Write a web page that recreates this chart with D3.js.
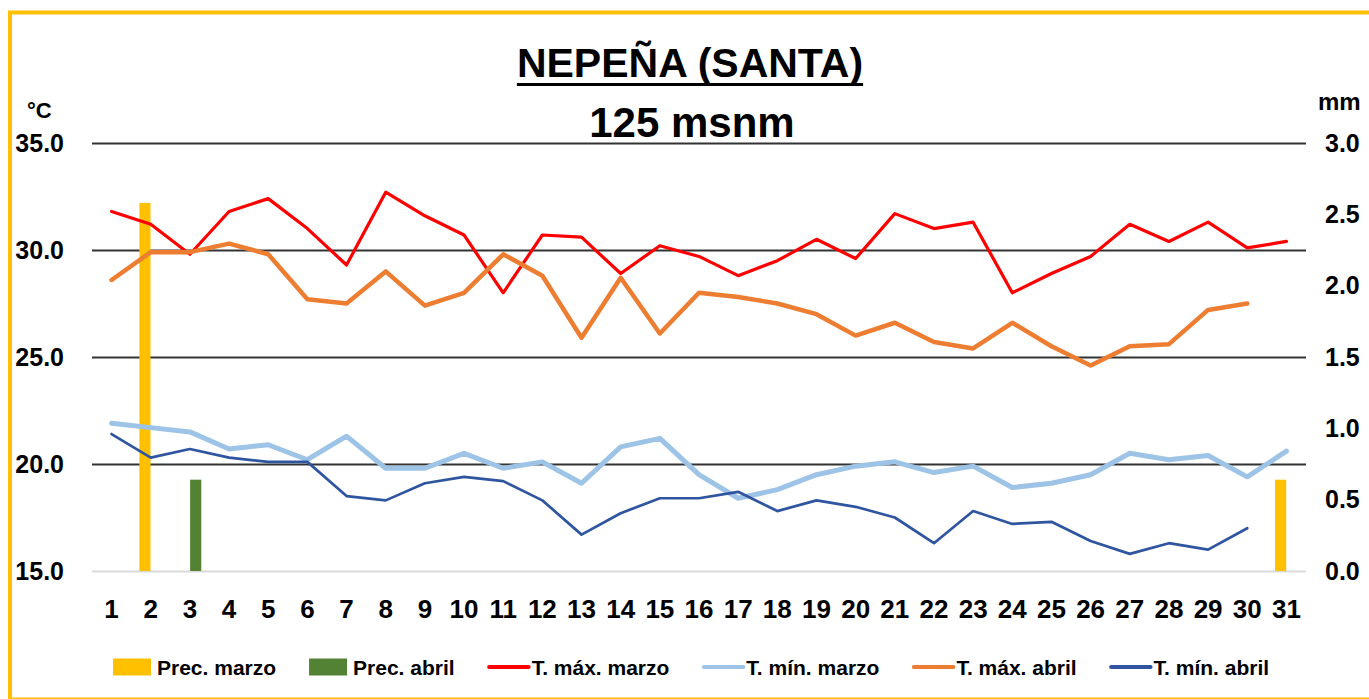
<!DOCTYPE html>
<html>
<head>
<meta charset="utf-8">
<script src="https://cdn.jsdelivr.net/npm/d3@7"></script>
<style>
	body { margin: 0; background: #fff; }
	svg { display: block; }
	text { font-family: "Liberation Sans", Arial, sans-serif; font-weight: bold; fill: #000; }
</style>
</head>
<body>
<svg id="chart" width="1369" height="699"></svg>
<script>

// categories: days of the month
const days = [1, 2, 3, 4, 5, 6, 7, 8, 9, 10, 11, 12, 13, 14, 15, 16, 17, 18, 19, 20,
	21, 22, 23, 24, 25, 26, 27, 28, 29, 30, 31];

// precipitation (mm)
const precMarzo = [0, 2.58, 0, 0, 0, 0, 0, 0, 0, 0, 0, 0, 0, 0, 0, 0, 0, 0, 0, 0,
	0, 0, 0, 0, 0, 0, 0, 0, 0, 0, 0.64];
const precAbril = [0, 0, 0.64, 0, 0, 0, 0, 0, 0, 0, 0, 0, 0, 0, 0, 0, 0, 0, 0, 0,
	0, 0, 0, 0, 0, 0, 0, 0, 0, 0, 0];

// temperatures (°C)
const tMaxMarzo = [31.8, 31.2, 29.8, 31.8, 32.4, 31.0, 29.3, 32.7, 31.6, 30.7,
	28.0, 30.7, 30.6, 28.9, 30.2, 29.7, 28.8, 29.5, 30.5, 29.6,
	31.7, 31.0, 31.3, 28.0, 28.9, 29.7, 31.2, 30.4, 31.3, 30.1, 30.4];
const tMinMarzo = [21.9, 21.7, 21.5, 20.7, 20.9, 20.2, 21.3, 19.8, 19.8, 20.5,
	19.8, 20.1, 19.1, 20.8, 21.2, 19.5, 18.4, 18.8, 19.5, 19.9,
	20.1, 19.6, 19.9, 18.9, 19.1, 19.5, 20.5, 20.2, 20.4, 19.4, 20.6];
const tMaxAbril = [28.6, 29.9, 29.9, 30.3, 29.8, 27.7, 27.5, 29.0, 27.4, 28.0,
	29.8, 28.8, 25.9, 28.7, 26.1, 28.0, 27.8, 27.5, 27.0, 26.0,
	26.6, 25.7, 25.4, 26.6, 25.5, 24.6, 25.5, 25.6, 27.2, 27.5, null];
const tMinAbril = [21.4, 20.3, 20.7, 20.3, 20.1, 20.1, 18.5, 18.3, 19.1, 19.4,
	19.2, 18.3, 16.7, 17.7, 18.4, 18.4, 18.7, 17.8, 18.3, 18.0,
	17.5, 16.3, 17.8, 17.2, 17.3, 16.4, 15.8, 16.3, 16.0, 17.0, null];

const tempTicks = [15, 20, 25, 30, 35];
const precTicks = [0, 0.5, 1, 1.5, 2, 2.5, 3];

const legendItems = [
	{label: "Prec. marzo", color: "#FFC000", type: "bar"},
	{label: "Prec. abril", color: "#548235", type: "bar"},
	{label: "T. máx. marzo", color: "#FF0000", type: "line"},
	{label: "T. mín. marzo", color: "#9DC3E6", type: "line"},
	{label: "T. máx. abril", color: "#ED7D31", type: "line"},
	{label: "T. mín. abril", color: "#2F55A0", type: "line"}
];

//////////////////////////////////////////////////////////////////////

const svg = d3.select("#chart");
const plotLeft = 92, plotRight = 1306, plotTop = 143, plotBottom = 571;

// chart frame
svg.append("rect")
	.attr("x", 10).attr("y", 12.5)
	.attr("width", 1400).attr("height", 687)
	.attr("fill", "#fff")
	.attr("stroke", "#FFC000")
	.attr("stroke-width", 4);

const x = d3.scaleBand()
	.domain(days)
	.range([plotLeft, plotRight])
	.paddingInner(0.42)
	.paddingOuter(0.21);

const x1 = d3.scaleBand()
	.domain(["marzo", "abril"])
	.range([0, x.bandwidth()])
	.paddingInner(0.04);

const yT = d3.scaleLinear().domain([15, 35]).range([plotBottom, plotTop]);
const yP = d3.scaleLinear().domain([0, 3]).range([plotBottom, plotTop]);

// gridlines
const grid = svg.append("g")
	.attr("transform", "translate(" + plotLeft + ",0)")
	.call(d3.axisLeft(yT).tickValues(tempTicks).tickSize(-(plotRight - plotLeft)).tickFormat(""));
grid.select(".domain").remove();
grid.selectAll(".tick line")
	.attr("stroke", function(d) { return d === 15 ? "#D9D9D9" : "#333"; })
	.attr("stroke-width", 2);

// precipitation bars
const barData = [];
days.forEach(function(d, i) {
	barData.push({day: d, key: "marzo", value: precMarzo[i], color: "#FFC000"});
	barData.push({day: d, key: "abril", value: precAbril[i], color: "#548235"});
});

svg.append("g")
	.selectAll("rect")
	.data(barData.filter(function(d) { return d.value > 0; }))
	.join("rect")
	.attr("x", function(d) { return x(d.day) + x1(d.key); })
	.attr("y", function(d) { return yP(d.value); })
	.attr("width", x1.bandwidth())
	.attr("height", function(d) { return yP(0) - yP(d.value); })
	.attr("fill", function(d) { return d.color; });

// temperature lines
const line = d3.line()
	.defined(function(d) { return d != null; })
	.x(function(d, i) { return x(days[i]) + x.bandwidth() / 2; })
	.y(function(d) { return yT(d); });

const series = [
	{values: tMaxMarzo, color: "#FF0000", width: 3.2},
	{values: tMinMarzo, color: "#9DC3E6", width: 5},
	{values: tMaxAbril, color: "#ED7D31", width: 4.5},
	{values: tMinAbril, color: "#2F55A0", width: 2.7}
];

svg.append("g")
	.selectAll("path")
	.data(series)
	.join("path")
	.attr("d", function(d) { return line(d.values); })
	.attr("fill", "none")
	.attr("stroke", function(d) { return d.color; })
	.attr("stroke-width", function(d) { return d.width; })
	.attr("stroke-linejoin", "round")
	.attr("stroke-linecap", "round");

// axes
const xAxis = svg.append("g")
	.attr("transform", "translate(0," + plotBottom + ")")
	.call(d3.axisBottom(x).tickSize(0).tickPadding(28.5));
xAxis.select(".domain").remove();
xAxis.selectAll("text").style("font-size", "26px");

const yAxisL = svg.append("g")
	.attr("transform", "translate(" + plotLeft + ",0)")
	.call(d3.axisLeft(yT).tickValues(tempTicks).tickSize(0).tickPadding(28).tickFormat(d3.format(".1f")));
yAxisL.select(".domain").remove();
yAxisL.selectAll("text").style("font-size", "25px");

const yAxisR = svg.append("g")
	.attr("transform", "translate(" + plotRight + ",0)")
	.call(d3.axisRight(yP).tickValues(precTicks).tickSize(0).tickPadding(19).tickFormat(d3.format(".1f")));
yAxisR.select(".domain").remove();
yAxisR.selectAll("text").style("font-size", "25px");

svg.selectAll(".tick text").attr("fill", "#000").attr("font-family", null).attr("font-size", null);

// units
svg.append("text").attr("x", 27).attr("y", 118).style("font-size", "22px").text("°C");
svg.append("text").attr("x", 1318).attr("y", 110).style("font-size", "24px").text("mm");

// titles
const title = svg.append("text")
	.attr("x", 690).attr("y", 77)
	.attr("text-anchor", "middle")
	.style("font-size", "41px")
	.text("NEPEÑA (SANTA)");
const tw = title.node().getComputedTextLength();
svg.append("line")
	.attr("x1", 690 - tw / 2).attr("x2", 690 + tw / 2)
	.attr("y1", 84.5).attr("y2", 84.5)
	.attr("stroke", "#000")
	.attr("stroke-width", 3);

svg.append("text")
	.attr("x", 692).attr("y", 137)
	.attr("text-anchor", "middle")
	.style("font-size", "42px")
	.text("125 msnm");

// legend
const legend = svg.append("g").attr("transform", "translate(113,667)");
let cursor = 0;
legendItems.forEach(function(item) {
	const g = legend.append("g").attr("transform", "translate(" + cursor + ",0)");
	if (item.type === "bar") {
		g.append("rect").attr("x", 0).attr("y", -8.5).attr("width", 38).attr("height", 17).attr("fill", item.color);
	}
	else {
		g.append("line").attr("x1", 1.5).attr("x2", 41).attr("y1", 0).attr("y2", 0)
			.attr("stroke", item.color).attr("stroke-width", 4).attr("stroke-linecap", "round");
	}
	const t = g.append("text").attr("x", 44).attr("y", 7.5).style("font-size", "21px").text(item.label);
	cursor += 44 + t.node().getComputedTextLength() + 33;
});

</script>
</body>
</html>
